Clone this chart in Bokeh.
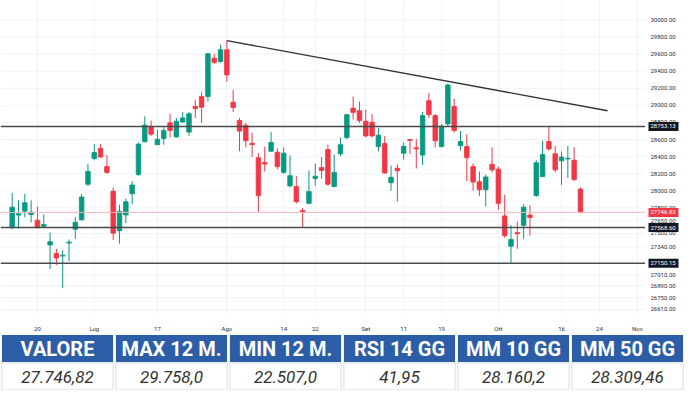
import pandas as pd
from bokeh.plotting import figure
from bokeh.models import (Range1d, FixedTicker, Span, FactorRange, ColumnDataSource, LogScale)
from bokeh.layouts import column, row
from bokeh.core.properties import value
from bokeh.embed import file_html
from bokeh.resources import INLINE

# ---------------- data ----------------
first_day = "2023-06-14"
calendar_end = "2023-11-03"
holidays = ["2023-08-15"]

opens = [27568, 27715, 27760, 27722, 27656, 27583, 27365, 27266, 27235, 27388,
         27550, 27660, 28076, 28377, 28497, 28283, 27994, 27532, 27716, 27964,
         28189, 28574, 28749, 28539, 28611, 28795, 28631, 28806, 28687, 28987,
         29103, 29103, 29552, 29512, 29651, 29037, 28822, 28765, 28555, 28388,
         28332, 28463, 28452, 28215, 28057, 28050, 27770, 27853, 28143, 28272,
         28482, 28050, 28433, 28623, 28967, 28937, 28814, 28802, 28517, 28554,
         28095, 28264, 28440, 28600, 28503, 28418, 29053, 28880, 28517, 28783,
         28987, 28528, 28517, 28283, 28106, 28012, 28309, 28253, 27705, 27349,
         27510, 27595, 27716, 27945, 28166, 28577, 28433, 28350, 28372, 28358,
         28020]
highs = [27975, 27889, 27964, 27889, 27815, 27723, 27510, 27321, 27303, 27430,
         27693, 27964, 28313, 28547, 28547, 28415, 28039, 27835, 27908, 28113,
         28566, 28872, 28822, 28718, 28745, 28902, 28853, 28922, 28922, 29065,
         29153, 29612, 29604, 29710, 29758, 29181, 28853, 28795, 28680, 28440,
         28517, 28687, 28497, 28509, 28415, 28170, 27797, 28238, 28320, 28395,
         28539, 28426, 28623, 28899, 29103, 29045, 28949, 28898, 28737, 28642,
         28294, 28309, 28566, 28604, 28604, 28922, 29142, 28898, 28783, 29258,
         29077, 28699, 28662, 28320, 28226, 28188, 28509, 28283, 27953, 27595,
         27642, 27842, 27830, 28358, 28585, 28753, 28528, 28460, 28528, 28509,
         28039]
lows = [27550, 27557, 27693, 27630, 27557, 27568, 27085, 27131, 26859, 27175,
        27437, 27649, 28057, 28358, 28384, 28200, 27423, 27382, 27622, 27842,
        28177, 28566, 28642, 28535, 28539, 28623, 28623, 28795, 28642, 28853,
        28795, 29045, 29485, 29504, 29278, 28922, 28463, 28509, 28395, 27756,
        28226, 28452, 28253, 28200, 28039, 27853, 27570, 27842, 28057, 28140,
        28057, 28039, 28403, 28604, 28834, 28795, 28623, 28623, 28460, 28200,
        28001, 27871, 28366, 28433, 28260, 28302, 28853, 28509, 28509, 28756,
        28680, 28471, 28113, 28001, 27938, 27815, 28215, 27778, 27448, 27150.15,
        27321, 27437, 27474, 27927, 28162, 28471, 28215, 28068, 28151, 28113,
        27735]
closes = [27808, 27730, 27860, 27750, 27568, 27605, 27404, 27212, 27245, 27398,
          27630, 27927, 28226, 28448, 28395, 28215, 27503, 27760, 27871, 28068,
          28547, 28768, 28662, 28604, 28707, 28707, 28814, 28853, 28902, 28962,
          28979, 29604, 29504, 29651, 29356, 28975, 28699, 28585, 28540, 27945,
          28313, 28566, 28283, 28440, 28177, 27871, 27752, 27990, 28170, 28238,
          28076, 28215, 28539, 28891, 28918, 28822, 28642, 28642, 28650, 28208,
          28158, 28234, 28520, 28590, 28490, 28880, 28891, 28585, 28756, 29239,
          28707, 28577, 28388, 28102, 28012, 28162, 28245, 27853, 27474, 27430,
          27496, 27808, 27686, 28328, 28425, 28490, 28245, 28395, 28380, 28132,
          27746.82]

x_tick_dates = ["2023-06-20", "2023-07-03", "2023-07-17", "2023-08-01", "2023-08-14",
                "2023-08-22", "2023-09-01", "2023-09-11", "2023-09-19", "2023-10-02",
                "2023-10-16", "2023-10-24", "2023-11-01"]
x_tick_labels = ["20", "Lug", "17", "Ago", "14", "22", "Set", "11", "19", "Ott",
                 "16", "24", "Nov"]

y_ticks = [30000, 29800, 29600, 29400, 29200, 29000, 28800, 28600, 28400, 28200,
           28000, 27800, 27650, 27500, 27340, 27180, 27010, 26890, 26750, 26610]

level_values = [28753.13, 27568.60, 27150.15]
last_close = 27746.82

trend_days = [34, 94.3]          # trading-day positions of the drawn trend line
trend_values = [29758.0, 28937.0]

headers = ["VALORE", "MAX 12 M.", "MIN 12 M.", "RSI 14 GG", "MM 10 GG", "MM 50 GG"]
header_values = ["27.746,82", "29.758,0", "22.507,0", "41,95", "28.160,2", "28.309,46"]

# ---------------- build ----------------
UP, DOWN = "#089981", "#f23645"
AXIS_TXT = "#2a2e39"

cal = [d.strftime("%Y-%m-%d") for d in pd.bdate_range(first_day, calendar_end)
       if d.strftime("%Y-%m-%d") not in holidays]
pos = {d: i for i, d in enumerate(cal)}
xs = list(range(len(closes)))

src = ColumnDataSource(dict(
    x=xs, open=opens, close=closes, high=highs, low=lows,
    top=[max(o, c) for o, c in zip(opens, closes)],
    bottom=[min(o, c) for o, c in zip(opens, closes)],
    color=[UP if c >= o else DOWN for o, c in zip(opens, closes)],
))

yr = Range1d(26551, 30228)
p = figure(frame_width=645, frame_height=314, y_scale=LogScale(),
           x_range=Range1d(-1.85, 100.3), y_range=yr,
           y_axis_location=None, output_backend="svg", toolbar_location=None,
           min_border_left=0, min_border_top=0, min_border_right=0, min_border_bottom=14)
p.outline_line_color = None
p.background_fill_color = "white"

tick_pos = [pos[d] for d in x_tick_dates]
p.xaxis.ticker = FixedTicker(ticks=tick_pos)
p.xaxis.major_label_overrides = {tp: lab for tp, lab in zip(tick_pos, x_tick_labels)}
p.xaxis.axis_line_color = None
p.xaxis.major_tick_line_color = None
p.xaxis.minor_tick_line_color = None
p.xaxis.major_label_text_font_size = "6px"
p.xaxis.major_label_text_color = AXIS_TXT
p.xaxis.major_label_text_font = "Roboto"
p.xaxis.major_label_standoff = 4
p.xgrid.grid_line_color = "#f0f3fa"
p.ygrid.grid_line_color = None
for yt in y_ticks:
    p.add_layout(Span(location=yt, dimension="width", line_color="#f0f3fa", line_width=1,
                      level="underlay"))

# level lines
for lv in level_values:
    p.add_layout(Span(location=lv, dimension="width", line_color="#4a4a4a", line_width=1.5))
p.add_layout(Span(location=last_close, dimension="width", line_color="#f5b3b8", line_width=1))

# candles
p.segment(x0="x", y0="low", x1="x", y1="high", line_color="color", line_width=1, source=src)
p.vbar(x="x", width=0.72, top="top", bottom="bottom", fill_color="color",
       line_color="color", line_width=0.8, source=src)

# trend line
p.line(trend_days, trend_values, line_color="#333333", line_width=1.4)

# ---------------- price scale (right) ----------------
ax = figure(frame_width=39, frame_height=314, x_range=Range1d(0, 39), y_range=yr,
            y_scale=LogScale(), x_axis_location=None, y_axis_location=None,
            output_backend="svg", toolbar_location=None,
            min_border_left=0, min_border_top=0, min_border_right=0, min_border_bottom=14)
ax.outline_line_color = None
ax.grid.visible = False
ax.text(x=5, y=y_ticks, text=[f"{v:.2f}" for v in y_ticks], text_font=value("Roboto"),
        text_font_size="6px", text_color=AXIS_TXT, text_align="left", text_baseline="middle")
box_vals = level_values + [last_close]
box_cols = ["#131722", "#131722", "#131722", DOWN]
ax.rect(x=18, y=box_vals, width=30, height=9, height_units="screen",
        fill_color=box_cols, line_color=None)
ax.text(x=5, y=box_vals, text=[f"{v:.2f}" for v in box_vals], text_font=value("Roboto"),
        text_font_size="6px", text_color="white", text_align="left", text_baseline="middle")

# ---------------- table ----------------
t = figure(width=684, height=56, x_range=FactorRange(factors=headers),
           y_range=Range1d(0, 2), output_backend="svg", toolbar_location=None,
           x_axis_location=None, y_axis_location=None, min_border=0)
t.outline_line_color = None
t.grid.visible = False
t.rect(x=headers, y=1.5, width=0.975, height=0.96, fill_color="#2b5ea7", line_color=None)
t.rect(x=headers, y=0.5, width=0.975, height=0.96, fill_color="white", line_color="#dcdcdc")
t.text(x=headers, y=1.5, text=headers, text_font=value("Roboto"),
       text_font_style="bold", text_font_size="20px", text_color="white",
       text_align="center", text_baseline="middle")
t.text(x=headers, y=0.5, text=header_values, text_font=value("Roboto"),
       text_font_style="italic", text_font_size="17px", text_color="#333333",
       text_align="center", text_baseline="middle")

layout = column(row(p, ax, spacing=0), t, spacing=0)
open("out.html", "w").write(file_html(layout, INLINE))
